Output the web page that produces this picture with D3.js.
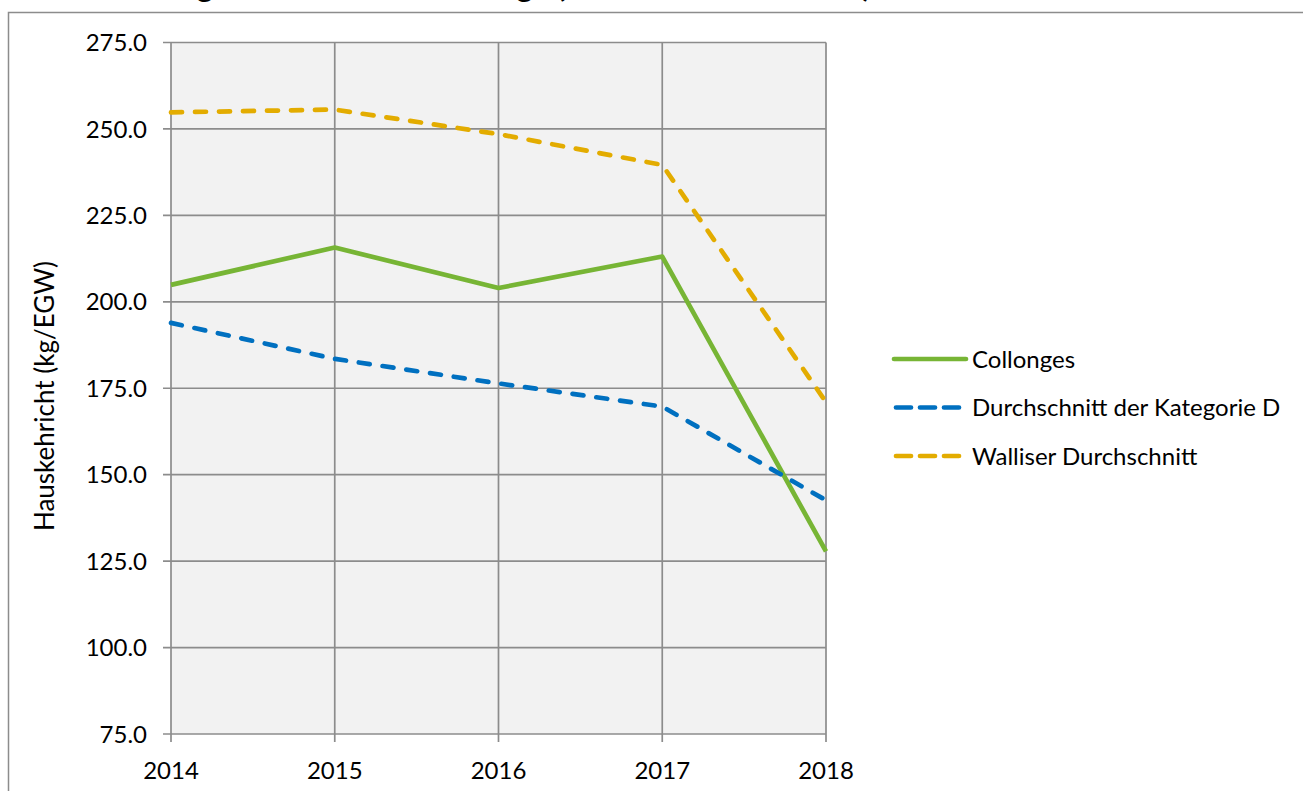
<!DOCTYPE html>
<html>
<head>
<meta charset="utf-8">
<script src="https://cdn.jsdelivr.net/npm/d3@7"></script>
<style>
html,body{margin:0;padding:0;background:#fff;overflow:hidden;}
svg text{font-family:Lato,"Open Sans",sans-serif;fill:#000;}
</style>
</head>
<body>
<svg id="chart" width="1303" height="791"></svg>
<script>
const years = [2014, 2015, 2016, 2017, 2018];
const collonges = [204.9, 215.7, 204.0, 213.1, 127.8];
const kategorieD = [193.9, 183.5, 176.4, 169.7, 142.6];
const wallis = [254.8, 255.6, 248.5, 239.6, 171.0];
const yTicks = [75, 100, 125, 150, 175, 200, 225, 250, 275];
const seriesNames = ["Collonges", "Durchschnitt der Kategorie D", "Walliser Durchschnitt"];
const seriesColors = ["#77b535", "#0070c0", "#e3ac00"];
const seriesDash = [null, "11 13", "11 13"];
const titleText = "Entwicklung der Hauskehrichtmenge (Haushalte + Gewerbe)";
const yTitle = "Hauskehricht (kg/EGW)";

const svg = d3.select("#chart");
const W = 1303, H = 791;
const m = {left: 171, right: 826, top: 42.5, bottom: 734};

// outer chart border
svg.append("rect").attr("x", 8.5).attr("y", 12.5).attr("width", W + 20).attr("height", H + 20)
  .attr("fill", "#fff").attr("stroke", "#8c8c8c").attr("stroke-width", 1.5);

// title (mostly cut off at the top, as in the reference)
const title = svg.append("text").attr("x", 0).attr("y", -3)
  .attr("font-size", 31).attr("font-weight", "bold").text(titleText);
const gi = titleText.indexOf("g");
const gx = title.node().getStartPositionOfChar(gi).x;
const gw = title.node().getExtentOfChar(gi).width;
title.attr("x", 205 - gx - gw / 2);

const x = d3.scalePoint().domain(years).range([m.left, m.right]);
const y = d3.scaleLinear().domain([75, 275]).range([m.bottom, m.top]);

svg.append("rect").attr("x", m.left).attr("y", m.top)
  .attr("width", m.right - m.left).attr("height", m.bottom - m.top).attr("fill", "#f2f2f2");

// grid
const gridColor = "#8c8c8c";
svg.append("g").selectAll("line").data(yTicks).join("line")
  .attr("x1", m.left - 8).attr("x2", m.right).attr("y1", d => y(d)).attr("y2", d => y(d))
  .attr("stroke", gridColor).attr("stroke-width", 1.7);
svg.append("g").selectAll("line").data(years).join("line")
  .attr("y1", m.top).attr("y2", m.bottom + 8).attr("x1", d => x(d)).attr("x2", d => x(d))
  .attr("stroke", gridColor).attr("stroke-width", 1.7);

// y tick labels
svg.append("g").selectAll("text").data(yTicks).join("text")
  .attr("x", m.left - 24).attr("y", d => y(d)).attr("dy", "0.36em")
  .attr("text-anchor", "end").attr("font-size", 24).text(d => d.toFixed(1));
// x tick labels
svg.append("g").selectAll("text").data(years).join("text")
  .attr("x", d => x(d)).attr("y", 779).attr("text-anchor", "middle")
  .attr("font-size", 24).text(d => d);

// y title
svg.append("text").attr("transform", "translate(54,396) rotate(-90)")
  .attr("text-anchor", "middle").attr("font-size", 26).text(yTitle);

// lines
const data = [collonges, kategorieD, wallis];
const line = d3.line().x((d, i) => x(years[i])).y(d => y(d));
data.forEach((s, k) => {
  svg.append("path").datum(s).attr("d", line).attr("fill", "none")
    .attr("stroke", seriesColors[k]).attr("stroke-width", 4.7)
    .attr("stroke-linecap", seriesDash[k] ? "round" : "butt")
    .attr("stroke-linejoin", "round")
    .attr("stroke-dasharray", seriesDash[k]);
});

// legend
const leg = svg.append("g");
seriesNames.forEach((n, k) => {
  const ly = 359 + k * 48.5;
  leg.append("line").attr("x1", seriesDash[k] ? 896 : 894).attr("x2", seriesDash[k] ? 963 : 966)
    .attr("y1", ly).attr("y2", ly)
    .attr("stroke", seriesColors[k]).attr("stroke-width", 4.7)
    .attr("stroke-linecap", "round")
    .attr("stroke-dasharray", seriesDash[k] ? "15 9" : null);
  leg.append("text").attr("x", 972).attr("y", ly).attr("dy", "0.36em")
    .attr("font-size", 24).text(n);
});
</script>
</body>
</html>
